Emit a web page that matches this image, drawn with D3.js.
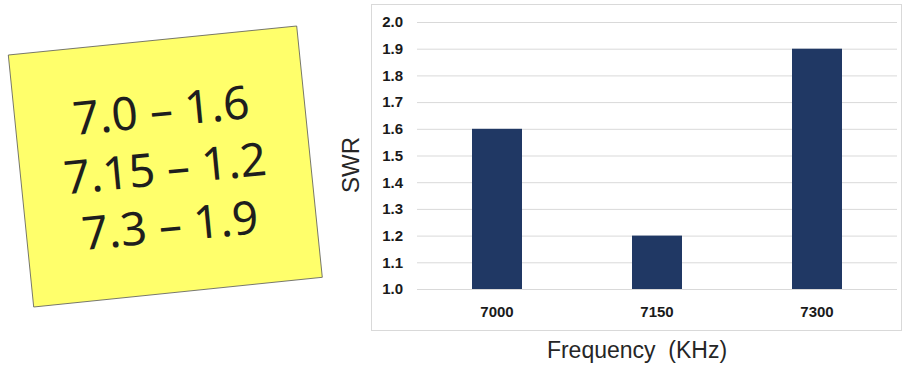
<!DOCTYPE html>
<html>
<head>
<meta charset="utf-8">
<script src="https://cdn.jsdelivr.net/npm/d3@7"></script>
<style>
  body { margin: 0; background: #fff; }
  svg { display: block; }
</style>
</head>
<body>
<div id="chart"></div>
<script>
// chart data
const frequencies = ["7000", "7150", "7300"];
const swrValues = [1.6, 1.2, 1.9];
const yTicks = [1.0, 1.1, 1.2, 1.3, 1.4, 1.5, 1.6, 1.7, 1.8, 1.9, 2.0];
const noteLines = ["7.0 \u2013 1.6", "7.15 \u2013 1.2", "7.3 \u2013 1.9"];

const width = 902;
const height = 366;
const plot = { left: 417, right: 897, top: 22, bottom: 289 };

const svg = d3.select("#chart")
              .append("svg")
              .attr("width", width)
              .attr("height", height);

// Sticky note
const notePoints = [[8.3, 55], [296.7, 26], [322.3, 277.3], [33.7, 307]];
svg.append("polygon")
   .attr("points", notePoints.map(p => p.join(",")).join(" "))
   .attr("fill", "#ffff6b")
   .attr("stroke", "#555")
   .attr("stroke-width", 0.8);

const noteCenters = [[161, 110], [165, 168], [170, 225]];
svg.selectAll("text.note")
   .data(noteLines)
   .enter()
   .append("text")
     .attr("class", "note")
     .attr("transform", (d, i) => `translate(${noteCenters[i][0]}, ${noteCenters[i][1]}) rotate(-5.5)`)
     .attr("text-anchor", "middle")
     .attr("dy", "0.36em")
     .attr("font-family", "'Noto Sans', sans-serif")
     .attr("font-size", 46)
     .attr("fill", "#1e1e1e")
     .text(d => d);

// Chart frame
svg.append("rect")
   .attr("x", 371.5)
   .attr("y", 4.5)
   .attr("width", 530)
   .attr("height", 326)
   .attr("fill", "none")
   .attr("stroke", "#d9d9d9");

const x = d3.scaleBand()
            .domain(frequencies)
            .range([plot.left, plot.right])
            .paddingInner(0.6875)
            .paddingOuter(0.34375);

const y = d3.scaleLinear()
            .domain([1, 2])
            .range([plot.bottom, plot.top]);

// Gridlines + y labels
const yAxis = svg.append("g")
                 .attr("transform", `translate(${plot.left}, 0)`)
                 .call(d3.axisLeft(y)
                         .tickValues(yTicks)
                         .tickSize(-(plot.right - plot.left))
                         .tickPadding(14)
                         .tickFormat(d3.format(".1f")));
yAxis.select(".domain").remove();
yAxis.selectAll(".tick line")
     .attr("stroke", "#d9d9d9")
     .attr("stroke-width", 1);
yAxis.selectAll(".tick text")
     .attr("font-family", "'Liberation Sans', Arial, sans-serif")
     .attr("font-weight", "bold")
     .attr("font-size", 15)
     .attr("fill", "#1a1a1a");

// Bars
svg.selectAll("rect.bar")
   .data(frequencies)
   .enter()
   .append("rect")
     .attr("class", "bar")
     .attr("x", d => x(d))
     .attr("width", x.bandwidth())
     .attr("y", (d, i) => y(swrValues[i]))
     .attr("height", (d, i) => y(1) - y(swrValues[i]))
     .attr("fill", "#203864");

// X labels
const xAxis = svg.append("g")
                 .attr("transform", `translate(0, ${plot.bottom})`)
                 .call(d3.axisBottom(x).tickSize(0).tickPadding(17));
xAxis.select(".domain").remove();
xAxis.selectAll(".tick text")
     .attr("font-family", "'Liberation Sans', Arial, sans-serif")
     .attr("font-weight", "bold")
     .attr("font-size", 15)
     .attr("fill", "#1a1a1a");

// Axis titles
svg.append("text")
   .attr("transform", "translate(359, 165) rotate(-90)")
   .attr("text-anchor", "middle")
   .attr("font-family", "'Liberation Sans', Arial, sans-serif")
   .attr("font-size", 24)
   .attr("fill", "#262626")
   .text("SWR");

svg.append("text")
   .attr("x", 637)
   .attr("y", 358)
   .attr("text-anchor", "middle")
   .attr("font-family", "'Liberation Sans', Arial, sans-serif")
   .attr("font-size", 23)
   .attr("fill", "#262626")
   .text("Frequency\u00a0 (KHz)");
</script>
</body>
</html>
